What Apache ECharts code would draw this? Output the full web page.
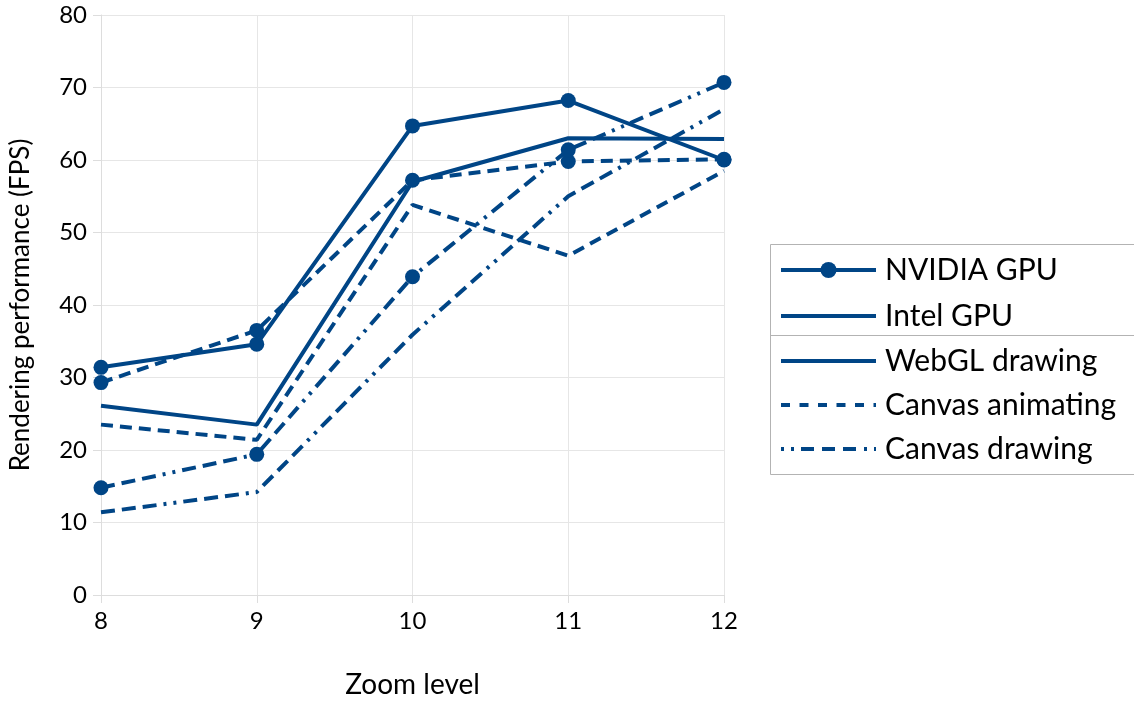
<!DOCTYPE html>
<html>
<head>
<meta charset="utf-8">
<script src="https://cdn.jsdelivr.net/npm/echarts@6/dist/echarts.min.js"></script>
<style>
html,body{margin:0;padding:0;background:#fff;}
#chart{width:1134px;height:704px;}
</style>
</head>
<body>
<div id="chart"></div>
<script>
const zoomLevels = ['8', '9', '10', '11', '12'];
const yTicks = [0, 10, 20, 30, 40, 50, 60, 70, 80];
const nvidiaWebgl = [31.4, 34.6, 64.7, 68.2, 60.0];
const nvidiaCanvasAnim = [29.3, 36.5, 57.2, 59.8, 60.1];
const nvidiaCanvasDraw = [14.8, 19.4, 43.9, 61.4, 70.7];
const intelWebgl = [26.1, 23.5, 57.0, 63.0, 62.9];
const intelCanvasAnim = [23.5, 21.4, 53.8, 46.8, 58.5];
const intelCanvasDraw = [11.4, 14.2, 35.9, 55.0, 67.0];
const legendGroups = ['NVIDIA GPU', 'Intel GPU'];
const legendStyles = ['WebGL drawing', 'Canvas animating', 'Canvas drawing'];

const COLOR = '#004586';
const FONT = 'Lato';
const DASH = [12, 7];
const DASHDOT = [14, 7, 14, 7, 14, 7, 3, 7, 3, 7];
const LDASH = [9, 9.5];
const LDASHDOT = [3, 7, 3, 7, 13, 8, 13, 8, 13, 8];

function mk(name, data, dash, marker) {
  return {
    name: name,
    type: 'line',
    data: data,
    symbol: marker ? 'circle' : 'none',
    symbolSize: 15,
    showSymbol: marker,
    lineStyle: { color: COLOR, width: 4, type: dash || 'solid', cap: 'butt' },
    itemStyle: { color: COLOR },
    animation: false
  };
}

const chart = echarts.init(document.getElementById('chart'));
const lx0 = 781, lx1 = 876, tx = 885;
const rowsY = [270, 316, 361, 405, 449];
const graphics = [
  { type: 'rect', shape: { x: 770.5, y: 244.5, width: 420, height: 230 }, style: { fill: '#fff', stroke: '#b3b3b3', lineWidth: 1 }, z: 10 },
  { type: 'line', shape: { x1: 770, y1: 335.5, x2: 1134, y2: 335.5 }, style: { stroke: '#b3b3b3', lineWidth: 1 }, z: 11 },
  { type: 'line', shape: { x1: lx0, y1: rowsY[0], x2: lx1, y2: rowsY[0] }, style: { stroke: COLOR, lineWidth: 4 }, z: 11 },
  { type: 'circle', shape: { cx: (lx0 + lx1) / 2, cy: rowsY[0], r: 8 }, style: { fill: COLOR }, z: 12 },
  { type: 'line', shape: { x1: lx0, y1: rowsY[1], x2: lx1, y2: rowsY[1] }, style: { stroke: COLOR, lineWidth: 4 }, z: 11 },
  { type: 'line', shape: { x1: lx0, y1: rowsY[2], x2: lx1, y2: rowsY[2] }, style: { stroke: COLOR, lineWidth: 4 }, z: 11 },
  { type: 'line', shape: { x1: lx0, y1: rowsY[3], x2: lx1, y2: rowsY[3] }, style: { stroke: COLOR, lineWidth: 4, lineDash: LDASH }, z: 11 },
  { type: 'line', shape: { x1: lx0, y1: rowsY[4], x2: lx1, y2: rowsY[4] }, style: { stroke: COLOR, lineWidth: 4, lineDash: LDASHDOT }, z: 11 }
];
const legendLabels = legendGroups.concat(legendStyles);
legendLabels.forEach(function (t, i) {
  graphics.push({ type: 'text', x: tx, y: rowsY[i], style: { text: t, fontFamily: FONT, fontSize: 30, fill: '#000', verticalAlign: 'middle', align: 'left' }, z: 12 });
});

chart.setOption({
  backgroundColor: '#fff',
  animation: false,
  grid: { left: 101, right: 410, top: 15, bottom: 108, containLabel: false },
  xAxis: {
    type: 'category',
    data: zoomLevels,
    boundaryGap: false,
    name: 'Zoom level',
    nameLocation: 'middle',
    nameGap: 76,
    nameTextStyle: { fontFamily: FONT, fontSize: 28, color: '#000' },
    axisLine: { show: true, lineStyle: { color: '#dddddd', width: 1 } },
    axisTick: { show: true, length: 8, lineStyle: { color: '#dddddd' } },
    axisLabel: { fontFamily: FONT, fontSize: 24, color: '#000', margin: 14 },
    splitLine: { show: true, lineStyle: { color: '#e6e6e6', width: 1 } }
  },
  yAxis: {
    type: 'value',
    min: yTicks[0],
    max: yTicks[yTicks.length - 1],
    interval: 10,
    name: 'Rendering performance (FPS)',
    nameLocation: 'middle',
    nameGap: 67,
    nameTextStyle: { fontFamily: FONT, fontSize: 26, color: '#000' },
    axisLine: { show: true, lineStyle: { color: '#dddddd', width: 1 } },
    axisTick: { show: true, length: 8, lineStyle: { color: '#dddddd' } },
    axisLabel: { fontFamily: FONT, fontSize: 24, color: '#000', margin: 14 },
    splitLine: { show: true, lineStyle: { color: '#e6e6e6', width: 1 } }
  },
  series: [
    mk('Intel GPU WebGL drawing', intelWebgl, null, false),
    mk('Intel GPU Canvas animating', intelCanvasAnim, DASH, false),
    mk('Intel GPU Canvas drawing', intelCanvasDraw, DASHDOT, false),
    mk('NVIDIA GPU WebGL drawing', nvidiaWebgl, null, true),
    mk('NVIDIA GPU Canvas animating', nvidiaCanvasAnim, DASH, true),
    mk('NVIDIA GPU Canvas drawing', nvidiaCanvasDraw, DASHDOT, true)
  ],
  graphic: graphics
});
</script>
</body>
</html>
